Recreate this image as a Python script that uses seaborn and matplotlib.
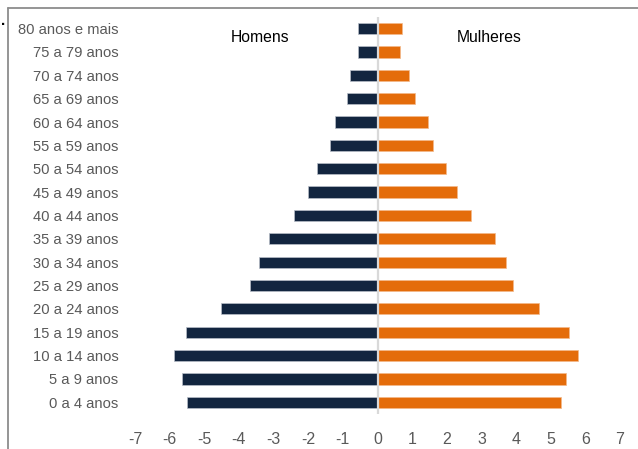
import matplotlib
matplotlib.use("Agg")
import matplotlib.pyplot as plt
from matplotlib.lines import Line2D
import seaborn as sns
import pandas as pd

# Dados (percentual da população por faixa etária)
faixas = ["80 anos e mais", "75 a 79 anos", "70 a 74 anos", "65 a 69 anos",
          "60 a 64 anos", "55 a 59 anos", "50 a 54 anos", "45 a 49 anos",
          "40 a 44 anos", "35 a 39 anos", "30 a 34 anos", "25 a 29 anos",
          "20 a 24 anos", "15 a 19 anos", "10 a 14 anos", "5 a 9 anos",
          "0 a 4 anos"]
homens = [0.57, 0.57, 0.79, 0.89, 1.22, 1.37, 1.76, 2.00, 2.40, 3.13,
          3.42, 3.67, 4.51, 5.52, 5.88, 5.63, 5.50]
mulheres = [0.70, 0.66, 0.92, 1.08, 1.46, 1.59, 1.98, 2.29, 2.69, 3.38,
            3.70, 3.92, 4.67, 5.52, 5.78, 5.45, 5.30]
xticks = list(range(-7, 8))

df = pd.DataFrame({"faixa": faixas,
                   "homens": [-v for v in homens],
                   "mulheres": mulheres})

sns.set_style("white")
plt.rcParams["font.family"] = ["Liberation Sans", "DejaVu Sans"]

fig = plt.figure(figsize=(6.38, 4.49), dpi=100)
ax = fig.add_axes([0.2116, 0.078, 0.7602, 0.8843])

cor_h = "#12253F"
cor_m = "#E46C0A"
sns.barplot(data=df, x="homens", y="faixa", order=faixas, orient="h",
            color=cor_h, width=0.48, edgecolor="#b8bec8", linewidth=0.5,
            saturation=1, ax=ax)
sns.barplot(data=df, x="mulheres", y="faixa", order=faixas, orient="h",
            color=cor_m, width=0.48, edgecolor="#f3b98a", linewidth=0.5,
            saturation=1, ax=ax)

ax.axvline(0, color="#d9d9d9", lw=1.6, zorder=3)

ax.set_xlim(-7, 7)
ax.set_ylim(len(faixas) - 0.5, -0.5)
ax.set_xticks(xticks)
ax.set_xticklabels([str(t) for t in xticks])
ax.set_xlabel("")
ax.set_ylabel("")
ax.tick_params(axis="both", length=0, labelcolor="#595959")
ax.tick_params(axis="x", pad=13, labelsize=11.5)
ax.tick_params(axis="y", pad=12, labelsize=10.6)
for s in ax.spines.values():
    s.set_visible(False)

ax.text(-3.38, 0.4, "Homens", ha="center", va="center", fontsize=11.3,
        color="black")
ax.text(3.23, 0.4, "Mulheres", ha="center", va="center", fontsize=11.3,
        color="black")

# moldura cinza (recorte do quadro original)
fig.add_artist(Line2D([8 / 638, 1], [1 - 8 / 449, 1 - 8 / 449],
                      transform=fig.transFigure, color="#8c8c8c", lw=1.3))
fig.add_artist(Line2D([8 / 638, 8 / 638], [0, 1 - 8 / 449],
                      transform=fig.transFigure, color="#8c8c8c", lw=1.3))
fig.text(3 / 638, 1 - 28 / 449, ".", ha="center", va="bottom",
         fontsize=11, fontweight="bold", color="black")

fig.savefig("out.png", dpi=100)
